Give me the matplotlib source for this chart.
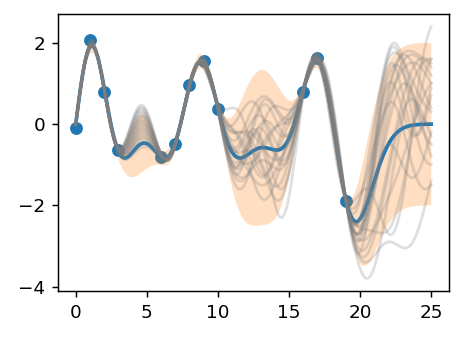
import numpy as np
import matplotlib.pyplot as plt

# observed points
train_x = np.array([0, 1, 2, 3, 6, 7, 8, 9, 10, 16, 17, 19], dtype=float)
train_y = np.array([-0.1, 2.08, 0.78, -0.65, -0.8, -0.5, 0.95, 1.55, 0.37, 0.8, 1.62, -1.9])

# posterior sample paths at a few x positions in the gaps
knot_x = np.array([4.5, 11.5, 13.0, 14.5, 20.5, 22.0, 23.5, 25.0])
samples = [
    [0.45, -0.3, 0.65, 0.2, -1.0, 1.6, 1.2, 0.3],
    [0.3, -1.0, -0.4, -2.3, -3.8, -1.8, 0.8, 1.6],
    [0.15, 0.3, -1.2, -0.2, -2.0, 1.7, 0.5, -1.0],
    [0.0, 0.2, 0.3, -0.9, -1.6, -2.7, -0.6, 2.4],
    [-0.1, -1.3, -0.6, 0.0, -2.5, 0.3, 1.7, 1.2],
    [-0.2, -0.8, -1.5, -0.8, -1.6, 1.2, 0.8, -0.5],
    [-0.3, -0.5, 0.2, -0.6, -3.4, -2.9, -3.0, -1.4],
    [-0.4, -1.4, -0.9, -1.1, -1.2, 0.6, 1.5, 1.0],
    [0.1, -0.9, 0.5, 0.1, -2.2, -0.5, -1.3, -0.2],
    [0.25, -0.2, -0.9, -1.4, -1.8, 0.9, 1.8, 1.4],
    [-0.5, -1.1, 0.0, -0.3, -2.6, -2.6, -0.6, 1.6],
    [-0.6, -0.6, -0.3, -1.6, -2.2, 0.0, 0.9, -0.8],
    [0.4, -1.6, -0.2, 0.4, -2.4, 1.4, 0.0, 0.7],
    [-0.05, -0.4, -1.8, -0.9, -3.0, -1.0, 1.2, 1.5],
    [0.2, -0.9, -0.7, 0.1, -2.0, 0.5, -0.8, -1.5],
    [-0.25, -0.2, -0.5, -0.8, -1.5, 1.8, 1.0, 0.0],
    [-0.35, -1.2, 0.4, -0.2, -2.8, -1.8, -0.3, 1.0],
    [0.05, -0.7, -1.0, -1.8, -2.3, 0.7, 1.6, 0.4],
    [-0.15, -0.3, -1.3, -0.4, -3.2, -1.2, 0.6, -0.3],
    [0.35, -1.0, -0.1, -1.0, -1.9, 1.0, -0.2, 0.9],
]

y_ticks = [-4, -2, 0, 2]
x_ticks = [0, 5, 10, 15, 20, 25]

ls = 1.5
noise = 0.01


def rbf(a, b):
    return np.exp(-(a[:, None] - b[None, :]) ** 2 / (2 * ls ** 2))


def posterior(xs, ys, noise_vec, test_x):
    K = rbf(xs, xs) + np.diag(noise_vec)
    Ks = rbf(test_x, xs)
    mean = Ks @ np.linalg.solve(K, ys)
    var = 1.0 - np.sum(Ks * np.linalg.solve(K, Ks.T).T, axis=1)
    return mean, np.sqrt(np.clip(var, 0, None))


test_x = np.linspace(0, 25, 500)
post_mean, post_std = posterior(train_x, train_y,
                                np.full(len(train_x), noise), test_x)
lw_bd = post_mean - 2 * post_std
up_bd = post_mean + 2 * post_std

fig = plt.figure(figsize=(462 / 132, 339 / 132), dpi=132)
ax = fig.add_axes([0.1255, 0.1416, 0.8463, 0.8171])

ax.scatter(train_x, train_y)
ax.plot(test_x, post_mean, linewidth=2.)
ax.fill_between(test_x, lw_bd, up_bd, alpha=0.25)

# sample paths: smooth curves through the observed points and the read-off values
all_x = np.concatenate([train_x, knot_x])
nvec = np.concatenate([np.full(len(train_x), noise), np.full(len(knot_x), 1e-4)])
for s in samples:
    path, _ = posterior(all_x, np.concatenate([train_y, s]), nvec, test_x)
    ax.plot(test_x, path, color='gray', alpha=0.25)

ax.set_xticks(x_ticks)
ax.set_yticks(y_ticks)

fig.savefig('out.png', dpi=132)
